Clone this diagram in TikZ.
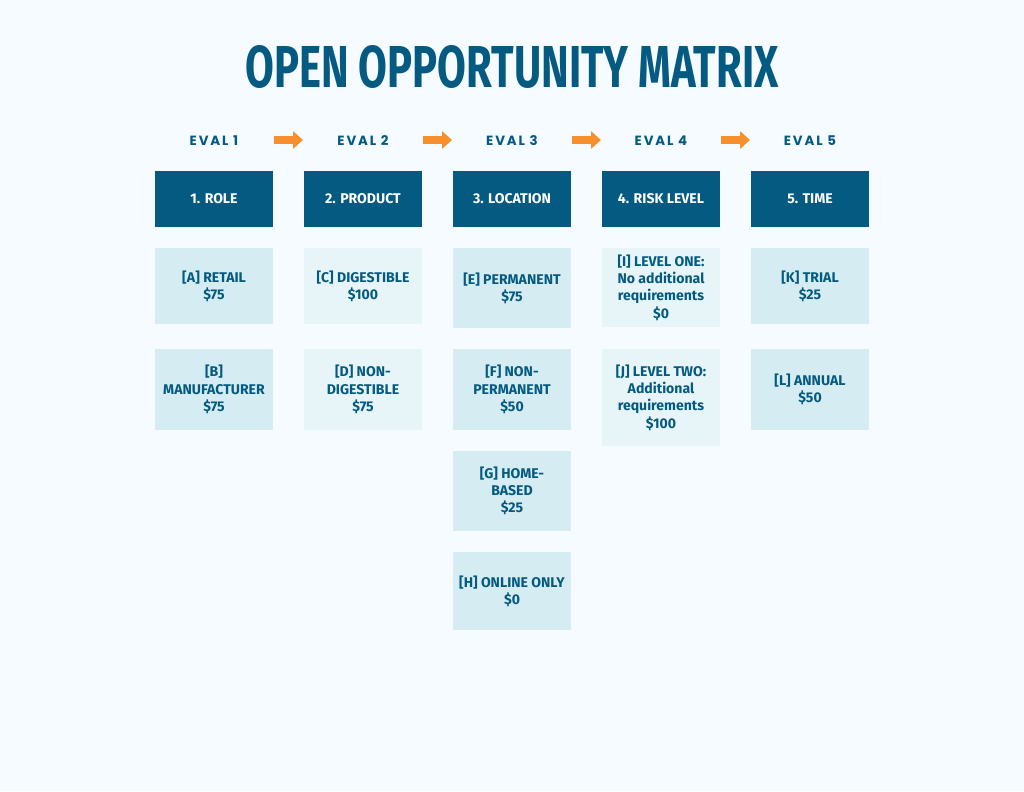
\documentclass[tikz,border=0pt]{standalone}
\usepackage{fontspec}
\setmainfont{Fira Sans}
\newfontfamily\evalfont[LetterSpace=14]{Poppins}
\newfontfamily\titrefont[FakeStretch=0.9]{Fira Sans}
\usetikzlibrary{arrows.meta}
\definecolor{fond}{HTML}{F5FBFE}
\definecolor{bleu}{HTML}{045A80}
\definecolor{clair}{HTML}{D5ECF2}
\definecolor{pale}{HTML}{E7F5F9}
\definecolor{orange}{HTML}{F7902C}
\tikzset{
  titre/.style={text=bleu, font=\bfseries\fontsize{10}{12.3}\selectfont, align=center},
  entete/.style={fill=bleu, text=white, font=\bfseries\fontsize{10}{12}\selectfont, minimum width=2.95cm, minimum height=1.4cm},
  case/.style={titre, fill=clair, minimum width=2.95cm},
  casepale/.style={case, fill=pale},
  eval/.style={text=bleu, font=\evalfont\bfseries\fontsize{9.5}{11}\selectfont},
  fleche/.style={orange, line width=6pt, -{Triangle[length=7pt,width=12pt]}}
}
\begin{document}
\begin{tikzpicture}[x=0.025cm,y=-0.025cm]
  \fill[fond] (0,0) rectangle (1024,791);
  % Titre
  \node[text=bleu, inner sep=0pt] (titre) at (512,67) {\resizebox{13.325cm}{1.05cm}{\titrefont\bfseries OPEN OPPORTUNITY MATRIX}};

  % Étapes
  \foreach \i/\x in {1/214,2/363,3/512,4/661,5/810}
    \node[eval] (eval\i) at (\x,141) {EVAL \i};
  \foreach \a in {1,2,3,4} {
    \coordinate (d\a) at ({\a*149+125},140);
    \draw[fleche] (d\a) -- ++(29,0);
  }

  % En-têtes
  \node[entete] (role) at (214,199) {1. ROLE};
  \node[entete] (produit) at (363,199) {2. PRODUCT};
  \node[entete] (lieu) at (512,199) {3. LOCATION};
  \node[entete] (risque) at (661,199) {4. RISK LEVEL};
  \node[entete] (temps) at (810,199) {5. TIME};

  % Colonne 1
  \node[case, minimum height=1.9cm] (a) at (214,286) {[A] RETAIL\\\$75};
  \node[case, minimum height=2.025cm] (b) at (214,389.5) {[B]\\MANUFACTURER\\\$75};
  % Colonne 2
  \node[casepale, minimum height=1.9cm] (c) at (363,286) {[C] DIGESTIBLE\\\$100};
  \node[casepale, minimum height=2.025cm] (d) at (363,389.5) {[D] NON-\\DIGESTIBLE\\\$75};
  % Colonne 3
  \node[case, minimum height=2cm] (e) at (512,288) {[E] PERMANENT\\\$75};
  \node[case, minimum height=2.025cm] (f) at (512,389.5) {[F] NON-\\PERMANENT\\\$50};
  \node[case, minimum height=2cm] (g) at (512,491) {[G] HOME-\\BASED\\\$25};
  \node[case, minimum height=1.95cm] (h) at (512,591) {[H] ONLINE ONLY\\\$0};
  % Colonne 4
  \node[casepale, minimum height=1.975cm] (i) at (661,287.5) {[I] LEVEL ONE:\\No additional\\requirements\\\$0};
  \node[casepale, minimum height=2.425cm] (j) at (661,397.5) {[J] LEVEL TWO:\\Additional\\requirements\\\$100};
  % Colonne 5
  \node[case, minimum height=1.9cm] (k) at (810,286) {[K] TRIAL\\\$25};
  \node[case, minimum height=2.025cm] (l) at (810,389.5) {[L] ANNUAL\\\$50};
\end{tikzpicture}
\end{document}
